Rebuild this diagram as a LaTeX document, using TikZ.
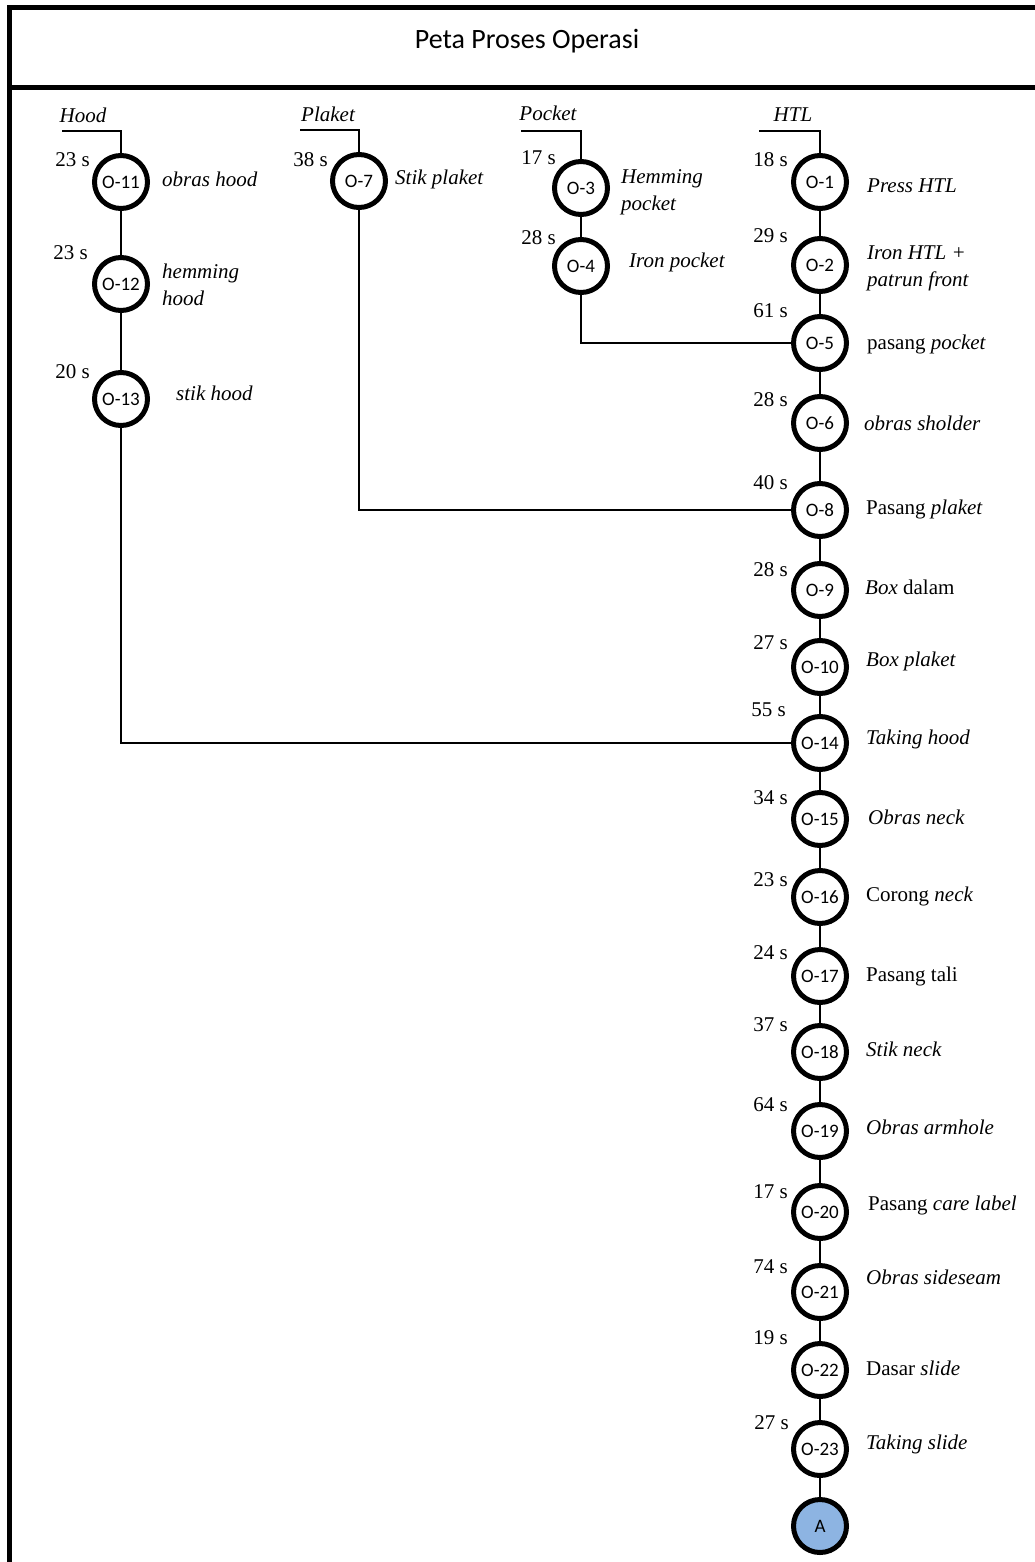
\documentclass[tikz,border=0pt]{standalone}
\usepackage{fontspec}
\setmainfont{Liberation Serif}
\newfontfamily\calfont{Carlito}
\definecolor{aBlue}{RGB}{141,180,226}
\begin{document}
\begin{tikzpicture}[x=1pt,y=-1pt,
  op/.style={circle,draw,line width=5pt,fill=white,minimum size=53pt,inner sep=0pt,
    font=\calfont\fontsize{19}{21}\selectfont},
  tm/.style={anchor=east,inner sep=0pt,font=\fontsize{21}{25}\selectfont},
  ds/.style={anchor=west,inner sep=0pt,align=left,font=\fontsize{21}{27}\selectfont},
  hd/.style={inner sep=0pt,font=\itshape\fontsize{21}{25}\selectfont},
  ln/.style={line width=1.6pt},
  frame/.style={line width=5pt}]
\useasboundingbox (0,0) rectangle (1035,1562);
% frame
\draw[frame] (9.5,1570) -- (9.5,7.5) -- (1045,7.5);
\draw[frame] (9.5,88) -- (1045,88);
\node[font=\calfont\fontsize{28}{30}\selectfont,anchor=base] (title) at (527,49) {Peta Proses Operasi};

% headers
\node[hd] (hHood) at (83,115) {Hood};
\node[hd] (hPlaket) at (328,114) {Plaket};
\node[hd] (hPocket) at (548,113) {Pocket};
\node[hd] (hHTL) at (793,115) {HTL};
\coordinate (sHood) at (62,131);
\coordinate (sPlaket) at (300,130);
\coordinate (sPocket) at (521,131);
\coordinate (sHTL) at (759,131);

% Hood column
\node[op] (o11) at (121,182) {O-11};
\node[op] (o12) at (121,284) {O-12};
\node[op] (o13) at (121,399) {O-13};
\node[tm] (t11) at (90,160) {23 s};
\node[tm] (t12) at (88,253) {23 s};
\node[tm] (t13) at (90,372) {20 s};
\node[ds] (d11) at (162,179) {\textit{obras hood}};
\node[ds] (d12) at (162,285) {\textit{hemming}\\\textit{hood}};
\node[ds] (d13) at (176,393) {\textit{stik hood}};

% Plaket column
\node[op] (o7) at (359,181) {O-7};
\node[tm] (t7) at (328,160) {38 s};
\node[ds] (d7) at (395,179) {\textit{Stik plaket}};

% Pocket column
\node[op] (o3) at (581,188) {O-3};
\node[op] (o4) at (581,266) {O-4};
\node[tm] (t3) at (556,158) {17 s};
\node[tm] (t4) at (556,238) {28 s};
\node[ds] (d3) at (621,192) {\textit{Hemming}\\\textit{pocket}};
\node[ds] (d4) at (629,262) {\textit{Iron pocket}};

% HTL column
\node[op] (o1) at (820,182) {O-1};
\node[op] (o2) at (820,265) {O-2};
\node[op] (o5) at (820,343) {O-5};
\node[op] (o6) at (820,423) {O-6};
\node[op] (o8) at (820,510) {O-8};
\node[op] (o9) at (820,590) {O-9};
\node[op] (o10) at (820,667) {O-10};
\node[op] (o14) at (820,743) {O-14};
\node[op] (o15) at (820,819) {O-15};
\node[op] (o16) at (820,897) {O-16};
\node[op] (o17) at (820,976) {O-17};
\node[op] (o18) at (820,1052) {O-18};
\node[op] (o19) at (820,1131) {O-19};
\node[op] (o20) at (820,1212) {O-20};
\node[op] (o21) at (820,1292) {O-21};
\node[op] (o22) at (820,1370) {O-22};
\node[op] (o23) at (820,1449) {O-23};
\node[op,fill=aBlue] (oA) at (820,1526) {A};

\node[tm] (t1) at (788,160) {18 s};
\node[tm] (t2) at (788,236) {29 s};
\node[tm] (t5) at (788,311) {61 s};
\node[tm] (t6) at (788,400) {28 s};
\node[tm] (t8) at (788,483) {40 s};
\node[tm] (t9) at (788,570) {28 s};
\node[tm] (t10) at (788,643) {27 s};
\node[tm] (t14) at (786,710) {55 s};
\node[tm] (t15) at (788,798) {34 s};
\node[tm] (t16) at (788,880) {23 s};
\node[tm] (t17) at (788,953) {24 s};
\node[tm] (t18) at (788,1025) {37 s};
\node[tm] (t19) at (788,1105) {64 s};
\node[tm] (t20) at (788,1192) {17 s};
\node[tm] (t21) at (788,1267) {74 s};
\node[tm] (t22) at (788,1338) {19 s};
\node[tm] (t23) at (789,1423) {27 s};

\node[ds] (d1) at (867,186) {\textit{Press HTL}};
\node[ds] (d2) at (867,268) {\textit{Iron HTL +}\\\textit{patrun front}};
\node[ds] (d5) at (867,344) {pasang \textit{pocket}};
\node[ds] (d6) at (864,423) {\textit{obras sholder}};
\node[ds] (d8) at (866,509) {Pasang \textit{plaket}};
\node[ds] (d9) at (865,587) {\textit{Box} dalam};
\node[ds] (d10) at (866,661) {\textit{Box plaket}};
\node[ds] (d14) at (866,739) {\textit{Taking hood}};
\node[ds] (d15) at (868,817) {\textit{Obras neck}};
\node[ds] (d16) at (866,896) {Corong \textit{neck}};
\node[ds] (d17) at (866,976) {Pasang tali};
\node[ds] (d18) at (866,1049) {\textit{Stik neck}};
\node[ds] (d19) at (866,1127) {\textit{Obras armhole}};
\node[ds] (d20) at (868,1205) {Pasang \textit{care label}};
\node[ds] (d21) at (866,1277) {\textit{Obras sideseam}};
\node[ds] (d22) at (866,1368) {Dasar \textit{slide}};
\node[ds] (d23) at (866,1444) {\textit{Taking slide}};

% connectors
\draw[ln] (sHood) -| (o11);
\draw[ln] (sPlaket) -| (o7);
\draw[ln] (sPocket) -| (o3);
\draw[ln] (sHTL) -| (o1);
\draw[ln] (o11) -- (o12);
\draw[ln] (o12) -- (o13);
\draw[ln] (o3) -- (o4);
\draw[ln] (o1) -- (o2);
\draw[ln] (o2) -- (o5);
\draw[ln] (o5) -- (o6);
\draw[ln] (o6) -- (o8);
\draw[ln] (o8) -- (o9);
\draw[ln] (o9) -- (o10);
\draw[ln] (o10) -- (o14);
\draw[ln] (o14) -- (o15);
\draw[ln] (o15) -- (o16);
\draw[ln] (o16) -- (o17);
\draw[ln] (o17) -- (o18);
\draw[ln] (o18) -- (o19);
\draw[ln] (o19) -- (o20);
\draw[ln] (o20) -- (o21);
\draw[ln] (o21) -- (o22);
\draw[ln] (o22) -- (o23);
\draw[ln] (o23) -- (oA);
\draw[ln] (o4) |- (o5);
\draw[ln] (o7) |- (o8);
\draw[ln] (o13) |- (o14);
\end{tikzpicture}
\end{document}
